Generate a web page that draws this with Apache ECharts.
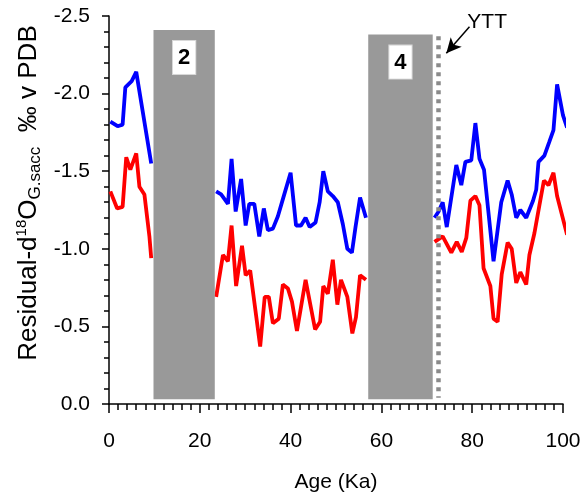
<!DOCTYPE html>
<html>
<head>
<meta charset="utf-8">
<script src="https://cdn.jsdelivr.net/npm/echarts@6/dist/echarts.min.js"></script>
<style>
  html, body { margin: 0; padding: 0; background: #fff; }
  #chart { width: 588px; height: 494px; }
</style>
</head>
<body>
<div id="chart"></div>
<script>
// Residual d18O of G. sacculifer (per mil v PDB) against age (ka).
// null marks a break in the record (hidden under the grey bands).
const blueAge = [0.3, 1.9, 3.0, 3.6, 5.0, 6.0, 9.3, 16,
  23.6, 24.7, 26.2, 27.0, 27.9, 29.1, 30.1, 30.9, 32.0, 33.1, 34.1, 35.0, 36.1, 37.2, 38.3, 40.0,
  41.2, 42.3, 43.3, 44.2, 45.5, 46.4, 47.2, 48.2, 49.3, 50.4, 51.5, 52.5, 53.5, 54.3, 55.3, 56.6, 64,
  71.7, 72.6, 73.5, 74.4, 76.5, 77.6, 78.5, 79.8, 80.7, 81.6, 82.6, 84.7, 86.4, 87.8, 88.7, 89.7,
  90.6, 91.9, 93.4, 94.1, 94.6, 95.9, 97.0, 97.9, 98.7, 100.0, 100.9];
const blueD18O = [-1.82, -1.79, -1.80, -2.04, -2.08, -2.14, -1.55, null,
  -1.37, -1.35, -1.29, -1.58, -1.24, -1.45, -1.15, -1.29, -1.29, -1.08, -1.26, -1.12, -1.13, -1.21, -1.32, -1.49,
  -1.15, -1.15, -1.20, -1.14, -1.17, -1.30, -1.50, -1.37, -1.34, -1.30, -1.16, -1.00, -0.975, -1.14, -1.33, -1.20, null,
  -1.20, -1.24, -1.30, -1.14, -1.54, -1.41, -1.56, -1.57, -1.81, -1.58, -1.51, -0.92, -1.30, -1.44, -1.35, -1.20,
  -1.25, -1.20, -1.31, -1.38, -1.56, -1.60, -1.69, -1.765, -2.06, -1.86, -1.78];

const redAge = [0.3, 1.8, 3.0, 3.8, 4.7, 6.0, 6.7, 7.8, 8.9, 9.3, 16,
  23.6, 25.1, 26.2, 27.0, 28.0, 29.3, 30.1, 31.1, 33.3, 34.3, 35.2, 36.1, 37.4, 38.3, 39.4, 40.3,
  41.4, 43.3, 45.4, 46.5, 47.2, 48.2, 49.3, 50.3, 51.1, 52.5, 53.6, 54.4, 55.3, 56.6, 64,
  71.7, 73.5, 75.4, 76.6, 77.7, 78.7, 79.6, 80.7, 81.6, 82.5, 84.0, 84.7, 85.6, 86.5, 87.8, 88.7,
  89.7, 90.6, 91.9, 92.6, 93.7, 94.8, 95.8, 96.8, 97.9, 98.7, 100.9];
const redD18O = [-1.37, -1.26, -1.27, -1.59, -1.51, -1.615, -1.40, -1.35, -1.08, -0.94, null,
  -0.69, -0.96, -0.92, -1.15, -0.76, -1.02, -0.83, -0.86, -0.37, -0.69, -0.69, -0.52, -0.55, -0.77, -0.745, -0.66,
  -0.47, -0.80, -0.48, -0.53, -0.76, -0.71, -0.93, -0.64, -0.80, -0.69, -0.455, -0.56, -0.83, -0.80, null,
  -1.045, -1.08, -0.975, -1.045, -0.98, -1.07, -1.31, -1.34, -1.28, -0.875, -0.76, -0.55, -0.53, -0.835, -1.04, -1.00,
  -0.78, -0.85, -0.77, -0.96, -1.10, -1.28, -1.44, -1.41, -1.49, -1.34, -1.09];

// Grey bands (stages 2 and 4): start age, end age, top, bottom
const bandLabels = ['2', '4'];
const bandStart = [9.8, 57.1];
const bandEnd = [23.3, 71.3];
const bandTop = [-2.41, -2.38];
const bandBottom = [-0.03, -0.03];

// Tephra marker
const yttAge = 72.5;

const xTicks = [0, 20, 40, 60, 80, 100];
const yTicks = [-2.5, -2.0, -1.5, -1.0, -0.5, 0.0];

const FONT = "'Liberation Sans', Arial, sans-serif";

function pairs(ages, vals) {
  return ages.map((a, i) => vals[i] === null ? [a, '-'] : [a, vals[i]]);
}

const chart = echarts.init(document.getElementById('chart'), null, { renderer: 'canvas' });

chart.setOption({
  animation: false,
  backgroundColor: '#fff',
  grid: { left: 109, right: 25, top: 16, bottom: 90, containLabel: false, outerBoundsMode: 'none' },
  xAxis: {
    type: 'value',
    min: xTicks[0], max: xTicks[xTicks.length - 1], interval: 20,
    name: 'Age (Ka)', nameLocation: 'middle', nameGap: 68,
    nameTextStyle: { fontFamily: FONT, fontSize: 21, color: '#000' },
    axisLine: { onZero: false, lineStyle: { color: '#000', width: 1.5 } },
    axisTick: { length: 9, lineStyle: { color: '#000', width: 1.5 } },
    minorTick: { show: true, splitNumber: 10, length: 6, lineStyle: { color: '#000', width: 1.5 } },
    splitLine: { show: false },
    axisLabel: { fontFamily: FONT, fontSize: 21, color: '#000', margin: 27 }
  },
  yAxis: {
    type: 'value',
    inverse: true,
    min: yTicks[0], max: yTicks[yTicks.length - 1], interval: 0.5,
    axisLine: { onZero: false, lineStyle: { color: '#000', width: 1.5 } },
    axisTick: { length: 7, lineStyle: { color: '#000', width: 1.5 } },
    minorTick: { show: true, splitNumber: 5, length: 5, lineStyle: { color: '#000', width: 1.5 } },
    splitLine: { show: false },
    axisLabel: { fontFamily: FONT, fontSize: 21, color: '#000', margin: 19,
      formatter: v => v.toFixed(1) }
  },
  graphic: [{
    type: 'text',
    x: 29, y: 193,
    rotation: Math.PI / 2,
    style: {
      text: '{a|Residual-d}{sup|18}{a|O}{sub|G.sacc}{a|  \u2030 v PDB}',
      align: 'center', verticalAlign: 'middle',
      rich: {
        a: { fontFamily: FONT, fontSize: 26, lineHeight: 30, fill: '#000' },
        sup: { fontFamily: FONT, fontSize: 15, lineHeight: 30, verticalAlign: 'top', fill: '#000' },
        sub: { fontFamily: FONT, fontSize: 17, lineHeight: 30, verticalAlign: 'bottom', fill: '#000' }
      }
    }
  }],
  series: [
    {
      name: 'blue', type: 'line', z: 2, clip: false,
      data: pairs(blueAge, blueD18O),
      showSymbol: false, symbol: 'none', connectNulls: false,
      lineStyle: { color: '#0000ff', width: 3.8 }
    },
    {
      name: 'red', type: 'line', z: 2, clip: false,
      data: pairs(redAge, redD18O),
      showSymbol: false, symbol: 'none', connectNulls: false,
      lineStyle: { color: '#ff0000', width: 3.8 }
    },
    {
      name: 'bands', type: 'custom', z: 5,
      data: bandStart.map((s, i) => [s, bandEnd[i], bandTop[i], bandBottom[i]]),
      renderItem: function (params, api) {
        const p0 = api.coord([api.value(0), api.value(2)]);
        const p1 = api.coord([api.value(1), api.value(3)]);
        return {
          type: 'group',
          children: [
            { type: 'rect',
              shape: { x: p0[0], y: p0[1], width: p1[0] - p0[0], height: p1[1] - p0[1] },
              style: { fill: '#999999' } },
            { type: 'text',
              style: {
                text: bandLabels[params.dataIndex],
                x: (p0[0] + p1[0]) / 2, y: p0[1] + 11,
                align: 'center', verticalAlign: 'top',
                font: 'bold 22px ' + FONT, fill: '#000',
                backgroundColor: '#fff', borderColor: '#d8d8d8', borderWidth: 1,
                padding: [6, 5, 5, 5], lineHeight: 22
              } }
          ]
        };
      },
      markLine: {
        silent: true,
        animation: false,
        label: { show: false },
        data: [
          [ { coord: [yttAge, -2.37], symbol: 'none',
              lineStyle: { color: '#8a8a8a', width: 4.5, type: [4, 5] } },
            { coord: [yttAge, -0.04], symbol: 'none' } ],
          [ { coord: [79.4, -2.43], symbol: 'none',
              lineStyle: { color: '#000', width: 1.5, type: 'solid' } },
            { coord: [74.3, -2.26], symbol: 'arrow', symbolSize: [11, 15] } ]
        ]
      },
      markPoint: {
        silent: true,
        animation: false,
        data: [{
          coord: [83.3, -2.46], symbol: 'circle', symbolSize: 1,
          itemStyle: { color: 'rgba(0,0,0,0)' },
          label: { show: true, position: 'inside', formatter: 'YTT',
            fontFamily: FONT, fontSize: 21, color: '#000' }
        }]
      }
    }
  ]
});
</script>
</body>
</html>
